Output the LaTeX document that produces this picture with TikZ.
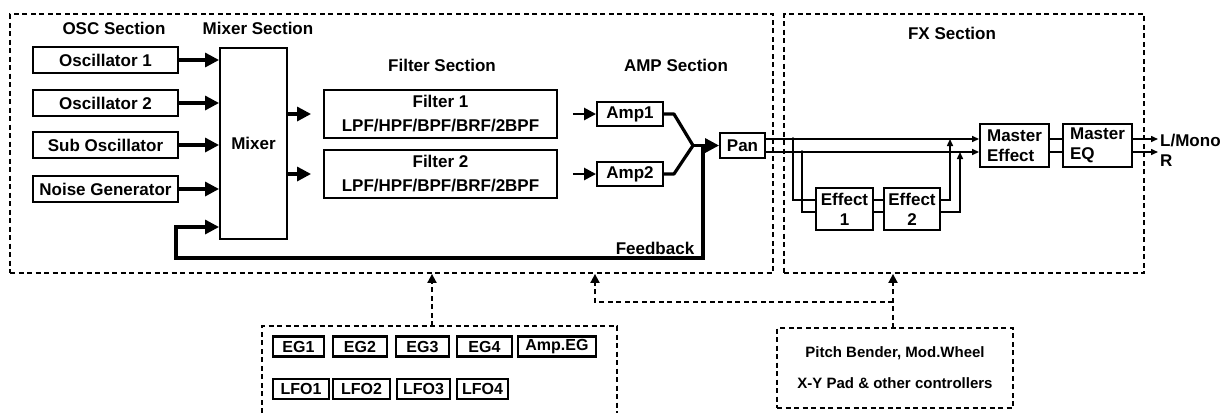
\documentclass[tikz,border=0pt]{standalone}
\usepackage{fontspec}
\setmainfont{Liberation Sans}
\usetikzlibrary{arrows.meta}
\begin{document}
\begin{tikzpicture}[x=1pt,y=-1pt,
  box/.style={draw, line width=1.9pt, inner sep=0pt, align=center,
    font=\bfseries\fontsize{17}{20}\selectfont},
  egbox/.style={draw, line width=2.2pt, inner sep=0pt, minimum height=20pt,
    font=\bfseries\fontsize{16}{18}\selectfont},
  lbl/.style={inner sep=0pt, font=\bfseries\fontsize{17}{20}\selectfont},
  big/.style={line width=3.2pt, -{Triangle[length=14pt,width=14pt]}},
  mid/.style={line width=2.6pt, -{Triangle[length=12pt,width=12pt]}},
  fx/.style={line width=1.5pt},
  fxarrow/.style={line width=1.5pt, -{Triangle[length=7pt,width=6pt]}},
  sect/.style={draw, line width=1.8pt, dash pattern=on 5pt off 3.5pt, inner sep=0pt},
  sectline/.style={line width=1.8pt, dash pattern=on 5pt off 3.5pt},
  dasharrow/.style={line width=1.8pt, dash pattern=on 5pt off 3.5pt,
    -{Triangle[length=9pt,width=9pt]}},
]
\useasboundingbox (0,0) rectangle (1226,413);

% section frames
\node[sect, minimum width=763pt, minimum height=259pt] (secA) at (391.5,143.5) {};
\node[sect, minimum width=360pt, minimum height=259pt] (secB) at (964,143.5) {};

% section labels
\node[lbl] (tosc) at (114,28) {OSC Section};
\node[lbl] (tmix) at (258,28) {Mixer Section};
\node[lbl] (tfil) at (442,65) {Filter Section};
\node[lbl] (tamp) at (676,65) {AMP Section};
\node[lbl] (tfx) at (952,33) {FX Section};

% OSC
\node[box, minimum width=145pt, minimum height=26pt] (osc1) at (105.5,60) {Oscillator 1};
\node[box, minimum width=145pt, minimum height=26pt] (osc2) at (105.5,103) {Oscillator 2};
\node[box, minimum width=145pt, minimum height=26pt] (osc3) at (105.5,145) {Sub Oscillator};
\node[box, minimum width=145pt, minimum height=26pt] (osc4) at (105.5,189) {Noise Generator};

% Mixer
\node[box, minimum width=67pt, minimum height=191pt] (mixer) at (253.5,143.5) {Mixer};

% Filters
\node[box, minimum width=233pt, minimum height=48pt, font=\bfseries\fontsize{17}{24}\selectfont] (fil1) at (440.5,114) {Filter 1\\LPF/HPF/BPF/BRF/2BPF};
\node[box, minimum width=233pt, minimum height=48pt, font=\bfseries\fontsize{17}{24}\selectfont] (fil2) at (440.5,174) {Filter 2\\LPF/HPF/BPF/BRF/2BPF};

% Amps
\node[box, minimum width=66pt, minimum height=24pt] (amp1) at (630,114) {Amp1};
\node[box, minimum width=66pt, minimum height=24pt] (amp2) at (630,174) {Amp2};

% Pan
\node[box, minimum width=45pt, minimum height=25pt] (pan) at (742.5,145.5) {Pan};

% FX blocks
\node[box, minimum width=57pt, minimum height=42pt] (e1) at (844.5,209) {Effect\\1};
\node[box, minimum width=56pt, minimum height=42pt] (e2) at (912,209) {Effect\\2};
\node[box, minimum width=69pt, minimum height=43pt, align=left] (meff) at (1014.5,145.5) {Master\\Effect};
\node[box, minimum width=69pt, minimum height=43pt, align=left] (meq) at (1097.5,145.5) {Master\\EQ};

% OSC -> Mixer
\draw[big] (osc1.east) -- (osc1.east -| mixer.west);
\draw[big] (osc2.east) -- (osc2.east -| mixer.west);
\draw[big] (osc3.east) -- (osc3.east -| mixer.west);
\draw[big] (osc4.east) -- (osc4.east -| mixer.west);

% Mixer -> Filters
\draw[big, shorten >=12pt] (mixer.east |- fil1.west) -- (fil1.west);
\draw[big, shorten >=12pt] (mixer.east |- fil2.west) -- (fil2.west);

% Filters -> Amps
\draw[mid, shorten <=15pt] (fil1.east |- amp1.west) -- (amp1.west);
\draw[mid, shorten <=15pt] (fil2.east |- amp2.west) -- (amp2.west);

% Amps merge -> Pan
\coordinate (mg) at (693,145.5);
\draw[line width=3.2pt, line join=round] (amp1.east) -- ++(10,0) -- (mg);
\draw[line width=3.2pt, line join=round] (amp2.east) -- ++(10,0) -- (mg);
\draw[big] (mg) -- (pan.west);

% Feedback
\coordinate (fb) at (703,145.5);
\coordinate (fbl) at (176,258);
\coordinate (fbin) at (176,227);
\draw[big] (fb) -- (fb |- fbl) -- (fbl) -- (fbin) -- (fbin -| mixer.west);
\node[lbl] (tfb) at (655,248) {Feedback};

% FX routing
\coordinate (t) at (0,139);
\coordinate (b) at (0,152);
\coordinate (r1) at (0,200);
\coordinate (r2) at (0,212);
\coordinate (j1) at (793,139);
\coordinate (j2) at (802,152);
\coordinate (u1) at (950,139);
\coordinate (u2) at (960,152);
\draw[fxarrow] (pan.east |- t) -- (meff.west |- t);
\draw[fxarrow] (pan.east |- b) -- (meff.west |- b);
\fill (j1) circle (1.8pt);
\fill (j2) circle (1.8pt);
\draw[fx] (j1) |- (e1.west |- r1);
\draw[fx] (j2) |- (e1.west |- r2);
\draw[fx] (e1.east |- r1) -- (e2.west |- r1);
\draw[fx] (e1.east |- r2) -- (e2.west |- r2);
\draw[fxarrow] (e2.east |- r1) -| (u1);
\draw[fxarrow] (e2.east |- r2) -| (u2);
\draw[fx] (meff.east |- t) -- (meq.west |- t);
\draw[fx] (meff.east |- b) -- (meq.west |- b);
\coordinate (o1) at (1158,139);
\coordinate (o2) at (1158,152);
\draw[fxarrow] (meq.east |- t) -- (o1);
\draw[fxarrow] (meq.east |- b) -- (o2);
\node[lbl, anchor=west] (lmono) at (1160,141) {L/Mono};
\node[lbl, anchor=west] (rout) at (1160,161) {R};

% Modulation sources box (open at the bottom)
\draw[sectline] (262,413) -- (262,326) -- (617,326) -- (617,413);
\node[egbox, minimum width=51pt] (eg1) at (298.5,346.5) {EG1};
\node[egbox, minimum width=54pt] (eg2) at (360,346.5) {EG2};
\node[egbox, minimum width=53pt] (eg3) at (422.5,346.5) {EG3};
\node[egbox, minimum width=55pt] (eg4) at (484.5,346.5) {EG4};
\node[egbox, minimum width=78pt] (ampeg) at (557,346.5) {Amp.EG};
\node[egbox, minimum width=56pt] (lfo1) at (301,389) {LFO1};
\node[egbox, minimum width=57pt] (lfo2) at (361.5,389) {LFO2};
\node[egbox, minimum width=53pt] (lfo3) at (423.5,389) {LFO3};
\node[egbox, minimum width=51pt] (lfo4) at (482.5,389) {LFO4};
\coordinate (modtop) at (432,326);
\draw[dasharrow] (modtop) -- (modtop |- secA.south);

% Controllers box
\node[sect, minimum width=236pt, minimum height=80pt, align=center,
  font=\bfseries\fontsize{15}{31}\selectfont] (ctrl) at (895,368)
  {Pitch Bender, Mod.Wheel\\X-Y Pad \& other controllers};
\coordinate (ctop) at (893,328);
\coordinate (k) at (595,302);
\draw[dasharrow] (ctop) -- (ctop |- secB.south);
\draw[dasharrow] (ctop |- k) -- (k) -- (k |- secA.south);
\end{tikzpicture}
\end{document}
